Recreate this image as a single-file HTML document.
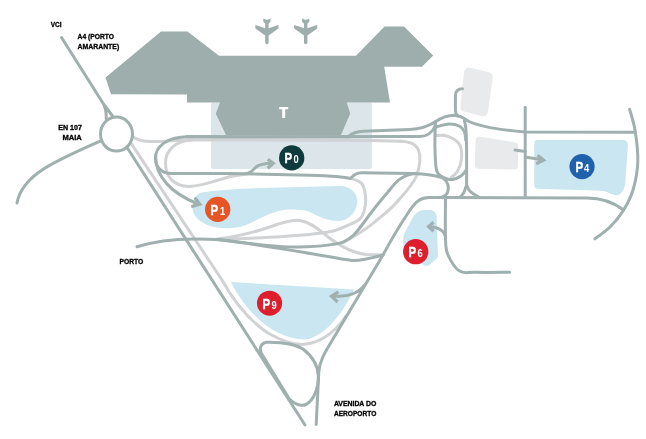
<!DOCTYPE html>
<html><head><meta charset="utf-8">
<style>
html,body{margin:0;padding:0;background:#fff;width:646px;height:439px;overflow:hidden}
svg{display:block;will-change:transform}
text{font-family:"Liberation Sans",sans-serif}
</style></head><body>
<svg width="646" height="439" viewBox="0 0 646 439">
<rect x="211" y="102.4" width="161" height="66.6" rx="2" fill="#dce6ea"/>
<polygon fill="#9daeac" points="161,31.5 187.5,31.5 219,55.75 356,55.75 384.5,26.5 404,26.5 433.2,55.5 422,66.8 384.2,66.8 390,102.4 346.6,102.4 350.2,113.5 341,135 226,135 215.8,113.8 220,102.5 187,102.5 187,94.4 111,94.2 105.5,77.5"/>
<polygon fill="#e9eaeb" stroke="#e9eaeb" stroke-width="10" stroke-linejoin="round" points="469.0,72.6 487.8,77.2 483.0,111.3 465.4,106.7"/>
<polygon fill="#e9eaeb" stroke="#e9eaeb" stroke-width="8" stroke-linejoin="round" points="479.6,140.8 514.2,146.2 514.0,165.5 478.8,164.7"/>
<path fill="#c9e6f1" d="M537.5,140 L623,140 C626.5,140 628,142.5 627.9,145.5 L625.4,182 C625,188 622,194.5 617,195.2 C612,195.5 607,191 601,190.7 L537.5,188.7 C535.5,188.7 534.3,187.5 534.3,185.5 L534.3,143 C534.3,141 535.5,140 537.5,140Z"/>
<path fill="#c9e6f1" d="M201.7,192.5 C220,189.5 240,188.8 260,188 L339.9,186.1 C350,186 357.3,193 357.3,201 C357.3,212 348,221 338.5,221 C328,221 318,216.5 310,212 C303,209.5 293,209 284,210 C270,212 258,220 246,225 C236,229 222,229 212,226.5 C200,223 192.5,216 192.5,208 C192.5,200 196,194 201.7,192.5Z"/>
<path fill="#c9e6f1" d="M417.7,212.3 C420,210 423,209.9 426,209.9 L431,210 C434,210.5 436.6,213 436.6,217 L438,257.5 L429,265.3 C426,267 420,264 415,258 L405,249 C402,243 403,236 405,232 L413,217 C414.5,214.5 416,213 417.7,212.3Z"/>
<path fill="#c9e6f1" d="M231,282 L354,289.5 C340,320 320,338 305,339.5 C280,340 250,320 231,282Z"/>

<g fill="none" stroke="#d1d2d4" stroke-width="3" stroke-linecap="round" stroke-linejoin="round">
<path d="M131.6,144.1 L222,280 C232,298 248,320 268,333 C280,340 292,344.5 302,344.5 C318,344 334,334 346,316"/>
<path d="M217,239 C235,237 255,232 270,227 C282,222.5 292,219.5 300,220.5 C310,222 318,229 328,237 C340,246 352,253 366,254.5 L383,255"/>
<path d="M217.0,239.4 C227.5,238.9 261.6,237.9 280.0,236.7 C298.4,235.5 315.6,234.3 327.1,232.3 C338.6,230.3 343.4,227.0 348.8,224.8 C354.2,222.6 357.1,221.6 359.7,219.1 C362.3,216.6 363.5,213.4 364.5,209.6 C365.5,205.8 365.9,200.7 365.5,196.4 C365.1,192.1 364.3,186.7 361.9,183.7 C359.5,180.7 352.7,179.1 350.9,178.2"/>
<path d="M343.3,242.1 C352,238 362,232 374,222.6 C383,215 390,210 396,203 C405,193 413,185 417,175 C420,165 420.5,155 418.5,150 C416,144 410,141.5 400,141.3"/>
<path d="M133.2,137 C137,140 143,141.5 152,141.6 L160,141.4 C170,140.5 180,140 192,139.9 L371,140.4 L400,141.3"/>
<path d="M192,139.9 C175,140.5 165.5,151 165.5,163 C165.5,177 174,186.2 189,186.4 C201,186.5 215,181 230,176.5 L248,173.8"/>
<path d="M435.6,135.8 C437.0,135.7 440.9,134.8 443.8,135.3 C446.7,135.8 450.4,137.0 453.1,138.8 C455.9,140.6 458.9,142.5 460.3,146.0 C461.7,149.5 461.8,155.8 461.3,160.0 C460.8,164.2 459.2,168.4 457.5,171.3 C455.8,174.2 452.3,176.5 451.3,177.5"/>
</g>
<g fill="none" stroke="#9fb0af" stroke-width="3" stroke-linecap="round" stroke-linejoin="round">
<path d="M61.5,37.5 L103.5,104 C105.5,108 106.5,113 106.2,118.5 M103.5,104 L112.5,116"/>
<ellipse cx="116.5" cy="134.1" rx="16" ry="17"/>
<path d="M100.5,141 C55,161 22,175 17,203"/>
<path d="M128,149 L305,425"/>
<path d="M445,197.6 L429,197.6 C421,197.6 416,201 410,210 C402,222 392,238 383,255 L330,344.1 C324,354 319.5,362 318.8,372 L316.2,424.5"/>
<path d="M266.4,342.3 C280,342 295,344 303,349 C312,356 318,366 318.3,376 C318.5,388 314,400 306,404.5 C300,407 293,403 289.2,398.8 L261.5,353.5 C259,350 260,343.5 266.4,342.3Z"/>
<path d="M137,246.8 C152,242 170,239.2 195,239 C205,239 212,239.2 220,239.8 C245,242.5 270,247 300,251.8 C320,255 340,259 352,260.5 C362,261 372,258 383,255"/>
<path d="M217,239.4 C240,242 265,246.5 290,247 C310,247 330,246 343.3,242.1 C352,238 356,233 362,225 C370,214 380,201 388,192 C395,183 400,175.5 415,173.4"/>
<path d="M350,136.8 L188,136.8 C166,137 155.5,147 155.5,158 C155.5,167 161,173.6 172,173.6 L230,173.6 L310,175.2 C335,176 345,177 350.5,178.5 C353.5,175.5 355.5,172.8 362,172.8 L412,173.4 C428,173.8 437,175.5 442.5,178 C447,180.5 448.5,185 448.3,189 C448,194 445,197.6 438,197.6"/>
<path d="M186,136.8 L420,136.4 C428,136.4 432.5,132 435.2,126"/>
<path d="M348,136.6 C352,133.5 356,131.6 363,131.3 L410,129.4 C420,129 427,127 435,122 C441,118 447,115.3 454,115.3 C460,115.5 464,118 468,121 C478,126 495,129.5 525,131.9 L633.7,132.3"/>
<path d="M462.5,88.8 C458,88.8 455.4,91.5 455.4,96 L455.4,110 C455.4,113 456.5,115 458,116"/>
<path d="M155.5,156 C155.5,177 172,193.5 197,203.5"/>
<path d="M435.6,121.4 C435.5,122.8 435.2,125.2 435.1,130.0 C435.0,134.8 434.7,143.1 435.0,150.0 C435.3,156.9 435.2,166.6 436.9,171.3 C438.6,176.0 442.4,176.8 445.0,178.2 C447.6,179.5 449.8,179.8 452.5,179.4 C455.2,179.0 459.0,177.3 461.3,175.7 C463.6,174.1 465.5,170.9 466.3,170.0"/>
<path d="M435.3,128.0 C435.7,127.8 435.4,127.2 437.7,126.5 C440.0,125.8 445.4,124.1 449.0,124.0 C452.6,123.9 456.6,124.7 459.2,126.0 C461.8,127.3 463.3,129.4 464.4,131.7 C465.5,134.0 465.5,138.6 465.7,140.0"/>
<path d="M464.4,120.4 C464.7,122.0 465.6,125.1 466.0,130.0 C466.4,134.9 466.5,140.8 466.6,150.0 C466.7,159.2 466.6,179.2 466.6,185.0"/>
<path d="M466.6,185.0 C466.1,186.3 464.9,190.5 463.8,192.6 C462.7,194.7 460.6,196.5 460.0,197.3"/>
<path d="M466.6,185.0 C467.2,186.1 468.0,189.3 470.0,191.3 C472.0,193.3 477.3,196.1 478.8,197.0"/>
<path d="M441.3,197.6 L587,197.9 C600,198 612,201 623.5,209.8"/>
<path d="M525.2,107.2 L525.2,197.6"/>
<path d="M629.6,109.2 C630.5,112.7 633.6,121.3 635.0,130.0 C636.4,138.7 638.1,151.5 637.8,161.5 C637.5,171.5 635.4,181.9 633.0,190.0 C630.6,198.1 627.3,204.0 623.5,210.2 C619.7,216.4 614.8,222.2 610.0,227.0 C605.2,231.8 597.3,236.9 594.8,238.9"/>
<path d="M445.5,197.6 C445.5,204.5 445.1,229.6 445.5,239.2 C445.9,248.8 445.6,249.7 448.0,255.0 C450.4,260.3 455.1,268.2 459.6,271.1 C464.1,274.0 466.6,272.1 475.0,272.3 C483.4,272.5 503.9,272.3 509.7,272.3"/>
<path d="M445.6,238 C445,232 440,227.5 429,226.6"/>
<path d="M246,173.6 C251,173.2 253,170 256,167 C259,164.5 264,163.5 272,163.3"/>
<path d="M364.6,285 C360,292 352,295.5 340,296.2 L333,296.3"/>
<path d="M515,150 L525.2,151.4 M526.4,157.2 L541,159.6"/>
</g>
<g fill="none" stroke="#9fb0af" stroke-width="3.2" stroke-linecap="butt" stroke-linejoin="miter" stroke-miterlimit="6">
<path d="M433.6,222.2 L428.6,226.6 L433.6,231.2"/>
<path d="M267.8,159.2 L273.2,163.3 L267.6,168.2"/>
<path d="M194.8,197.6 L199.8,204.2 L191.2,206.6"/>
<path d="M338.3,291.8 L331.5,296.3 L337.6,302"/>
<path d="M537.6,155.2 L543.6,160.2 L536.2,163.8"/>
</g>
<circle cx="291.7" cy="157.9" r="12.65" fill="#0f3b3c"/>
<circle cx="217.7" cy="209.4" r="12.65" fill="#e55526"/>
<circle cx="415.7" cy="251.7" r="12.65" fill="#dd1f2d"/>
<circle cx="269.55" cy="303.2" r="12.55" fill="#dd1f2d"/>
<circle cx="582.05" cy="166.55" r="12.6" fill="#2061ad"/>
<g fill="#fff" font-family="Liberation Sans, sans-serif">
<text transform="translate(284.6,162.7) scale(0.77,1)" font-size="14.9" font-weight="bold" stroke="#fff" stroke-width="0.45">P</text>
<text transform="translate(293.5,162.9) scale(0.9,1)" font-size="10.4" font-weight="bold">0</text>
<text transform="translate(210.6,214.6) scale(0.77,1)" font-size="14.9" font-weight="bold" stroke="#fff" stroke-width="0.45">P</text>
<text transform="translate(220.0,214.8) scale(0.9,1)" font-size="10.4" font-weight="bold">1</text>
<text transform="translate(408.6,256.6) scale(0.77,1)" font-size="14.9" font-weight="bold" stroke="#fff" stroke-width="0.45">P</text>
<text transform="translate(417.5,256.8) scale(0.9,1)" font-size="10.4" font-weight="bold">6</text>
<text transform="translate(262.6,308.6) scale(0.77,1)" font-size="14.9" font-weight="bold" stroke="#fff" stroke-width="0.45">P</text>
<text transform="translate(271.4,308.8) scale(0.9,1)" font-size="10.4" font-weight="bold">9</text>
<text transform="translate(575.6,171.6) scale(0.77,1)" font-size="14.9" font-weight="bold" stroke="#fff" stroke-width="0.45">P</text>
<text transform="translate(583.9,171.8) scale(0.9,1)" font-size="10.4" font-weight="bold">4</text>
<path d="M279.2,106.9 H288.2 V109.3 H285.2 V117.9 H282.2 V109.3 H279.2 Z"/>
</g>
<g fill="#9daeac">
<path d="M263.4,18.6 L266.9,19.9 L270.4,18.6 L270.6,21.6 L268.6,23.8 L268.6,28.2 L278.2,25 Q278.8,25.5 278.4,28.4 L268.6,35.4 L268.6,43 Q266.9,45.4 265.2,43 L265.2,35.4 L255.4,28.4 Q255,25.5 255.6,25 L265.2,28.2 L265.2,23.8 L263.2,21.6 Z"/>
<path transform="translate(38.8,0)" d="M263.4,18.6 L266.9,19.9 L270.4,18.6 L270.6,21.6 L268.6,23.8 L268.6,28.2 L278.2,25 Q278.8,25.5 278.4,28.4 L268.6,35.4 L268.6,43 Q266.9,45.4 265.2,43 L265.2,35.4 L255.4,28.4 Q255,25.5 255.6,25 L265.2,28.2 L265.2,23.8 L263.2,21.6 Z"/>
</g>
<g fill="#000" stroke="#000" stroke-width="0.3" font-weight="bold" font-size="7">
<text x="50.8" y="27" textLength="10.8" lengthAdjust="spacingAndGlyphs">VCI</text>
<text x="77.6" y="39.1" textLength="36.4" lengthAdjust="spacingAndGlyphs">A4 (PORTO</text>
<text x="77.6" y="48.7" textLength="41.6" lengthAdjust="spacingAndGlyphs">AMARANTE)</text>
<text x="58.2" y="130" textLength="23.8" lengthAdjust="spacingAndGlyphs">EN 107</text>
<text x="62.4" y="139.8" textLength="19.4" lengthAdjust="spacingAndGlyphs">MAIA</text>
<text x="119.5" y="264" textLength="23.8" lengthAdjust="spacingAndGlyphs">PORTO</text>
<text x="333.9" y="405.8" textLength="42.4" lengthAdjust="spacingAndGlyphs">AVENIDA DO</text>
<text x="333.9" y="415.9" textLength="42.4" lengthAdjust="spacingAndGlyphs">AEROPORTO</text>
</g>

</svg>
</body></html>
